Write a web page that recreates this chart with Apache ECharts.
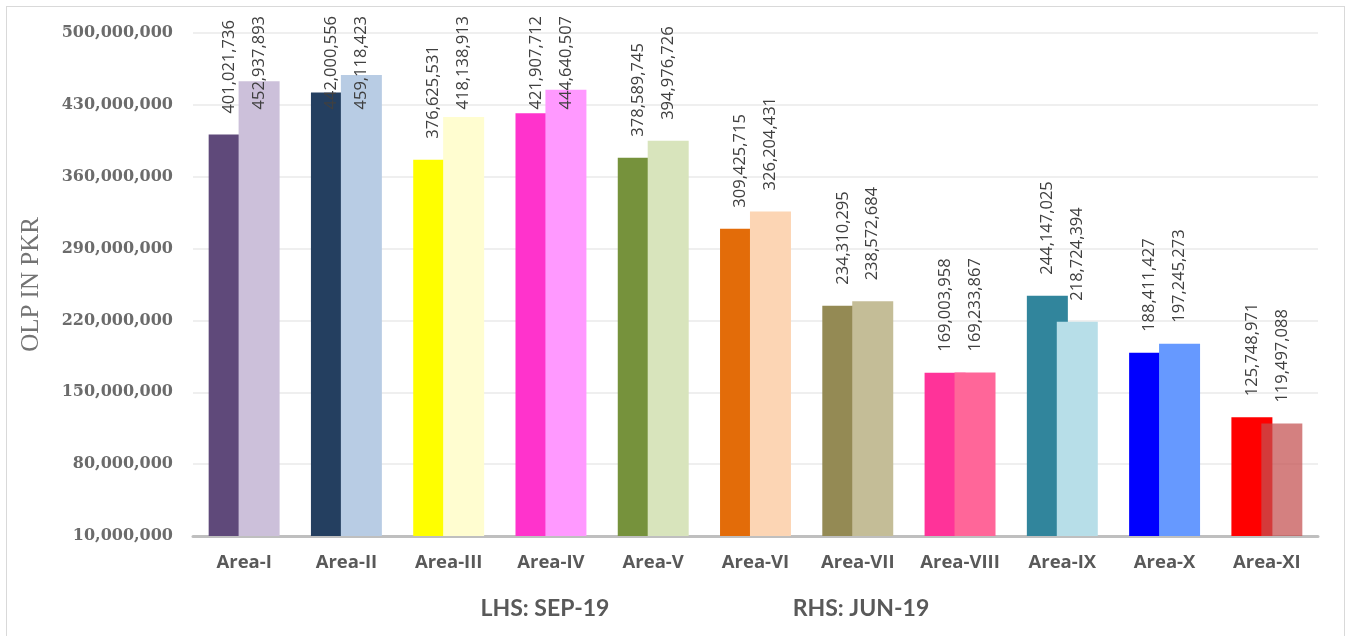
<!DOCTYPE html>
<html>
<head>
<meta charset="utf-8">
<script src="https://cdn.jsdelivr.net/npm/echarts@6/dist/echarts.min.js"></script>
<style>
html,body{margin:0;padding:0;background:#fff;}
#frame{position:absolute;left:6px;top:6px;width:1339px;height:640px;border:1px solid #d9d9d9;box-sizing:border-box;}
#chart{position:absolute;left:0;top:0;width:1346px;height:636px;}
</style>
</head>
<body>
<div id="frame"></div>
<div id="chart"></div>
<script>
var categories = ['Area-I','Area-II','Area-III','Area-IV','Area-V','Area-VI','Area-VII','Area-VIII','Area-IX','Area-X','Area-XI'];
var sep19 = [401021736, 442000556, 376625531, 421907712, 378589745, 309425715, 234310295, 169003958, 244147025, 188411427, 125748971];
var jun19 = [452937893, 459118423, 418138913, 444640507, 394976726, 326204431, 238572684, 169233867, 218724394, 197245273, 119497088];
var sepColors = ['#5F497A','#243F60','#FFFF00','#FF33CC','#76923C','#E36C09','#948A54','#FF3399','#31859C','#0000FF','#FF0000'];
var junColors = ['#CCC0DA','#B8CCE4','#FFFDD0','#FF99FF','#D8E4BC','#FCD5B4','#C4BD97','#FF6699','#B7DEE8','#6699FF','rgba(196,80,80,0.725)'];
var yMin = 10000000, yMax = 500000000, yInterval = 70000000;
var bottomNotes = ['LHS: SEP-19', 'RHS: JUN-19'];

var fmt = function (v) { return Number(v).toLocaleString('en-US'); };
var LABEL_TOP = 16;

function makeSeries(name, values, colors) {
  return {
    name: name,
    type: 'bar',
    barWidth: 41,
    barGap: '-27%',
    data: values.map(function (v, i) { return { value: v, itemStyle: { color: colors[i] } }; }),
    label: {
      show: true,
      position: 'top',
      distance: 21,
      rotate: 90,
      align: 'left',
      verticalAlign: 'middle',
      fontFamily: 'Open Sans',
      fontSize: 16.5,
      color: '#404040',
      formatter: function (p) { return fmt(p.value); }
    },
    labelLayout: function (p) {
      var r = p.labelRect;
      if (r.y < LABEL_TOP) {
        return { y: LABEL_TOP + r.height };
      }
      return {};
    }
  };
}

var chart = echarts.init(document.getElementById('chart'), null, { renderer: 'canvas' });
chart.setOption({
  backgroundColor: 'transparent',
  animation: false,
  grid: { left: 193, right: 28, top: 33, bottom: 100 },
  xAxis: {
    type: 'category',
    data: categories,
    axisLine: { lineStyle: { color: '#BFBFBF', width: 3 } },
    axisTick: { show: false },
    axisLabel: { interval: 0, hideOverlap: false, fontFamily: 'Open Sans', fontWeight: 'bold', fontSize: 18.5, color: '#595959', margin: 17 }
  },
  yAxis: {
    type: 'value',
    min: yMin,
    max: yMax,
    interval: yInterval,
    axisLine: { show: false },
    axisTick: { show: false },
    splitLine: { lineStyle: { color: '#EFEFEF', width: 2 } },
    axisLabel: { fontFamily: 'DejaVu Serif', fontWeight: 'bold', fontSize: 16, color: '#6b6b6b', margin: 20, formatter: fmt },
    name: 'OLP IN PKR',
    nameLocation: 'middle',
    nameRotate: 90,
    nameGap: 149,
    nameTextStyle: { fontFamily: 'Liberation Serif', fontSize: 25, color: '#737373' }
  },
  series: [
    makeSeries('SEP-19', sep19, sepColors),
    makeSeries('JUN-19', jun19, junColors)
  ],
  graphic: [
    { type: 'text', x: 545, y: 609, style: { text: bottomNotes[0], fontFamily: 'Lato', fontWeight: 'bold', fontSize: 23, fill: '#595959', align: 'center', verticalAlign: 'middle' } },
    { type: 'text', x: 861, y: 609, style: { text: bottomNotes[1], fontFamily: 'Lato', fontWeight: 'bold', fontSize: 23, fill: '#595959', align: 'center', verticalAlign: 'middle' } }
  ]
});
</script>
</body>
</html>
